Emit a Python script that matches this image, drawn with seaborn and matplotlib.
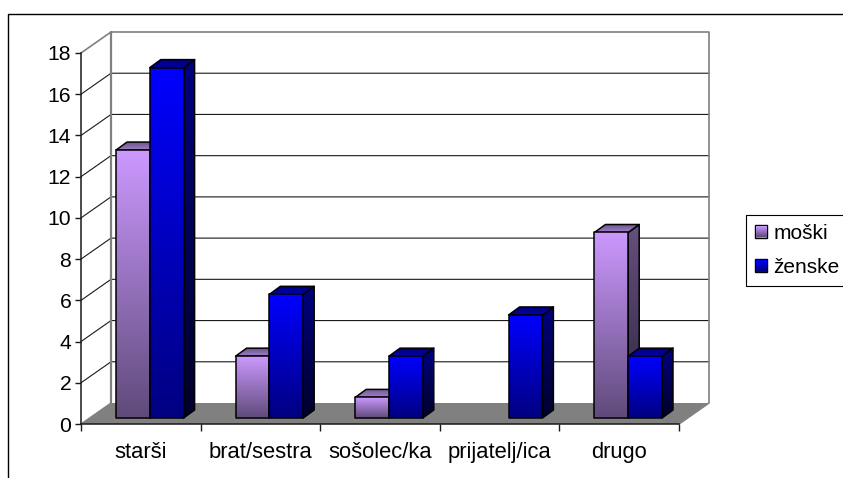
import matplotlib
matplotlib.use("Agg")
import matplotlib.pyplot as plt
import numpy as np
import pandas as pd
import seaborn as sns
from matplotlib.colors import to_rgb
from matplotlib.image import BboxImage
from matplotlib.lines import Line2D
from matplotlib.patches import Polygon
from matplotlib.transforms import Affine2D, Bbox

categories = ["starši", "brat/sestra", "sošolec/ka", "prijatelj/ica", "drugo"]
moski = [13, 3, 1, 0, 9]
zenske = [17, 6, 3, 5, 3]
y_ticks = list(range(0, 20, 2))
series_names = ["moški", "ženske"]

W, H = 843, 478
L, R, T, B = 81, 679, 53, 424
PX_X = (R - L) / 5
PX_Y = (B - T) / 18
WALL_DX, WALL_DY = 30 / PX_X, 21 / PX_Y
BAR_DX, BAR_DY = 11 / PX_X, 8 / PX_Y

FACE = {"moški": dict(front=("#CC99FF", "#5F4A7A"), side=("#66507F", "#2E2440"), top=("#6B5389", "#A07FC8")),
        "ženske": dict(front=("#0000FF", "#000080"), side=("#000080", "#00002A"), top=("#000080", "#0000A8"))}

sns.set_theme(style="white")
plt.rcParams["font.family"] = ["Liberation Sans", "DejaVu Sans"]

fig = plt.figure(figsize=(W / 100, H / 100), dpi=100, facecolor="white")
ax = fig.add_axes([L / W, 1 - B / H, (R - L) / W, (B - T) / H])
ax.patch.set_visible(False)

df = pd.DataFrame({
    "kategorija": categories * 2,
    "vrednost": moski + zenske,
    "spol": [series_names[0]] * 5 + [series_names[1]] * 5,
})
sns.barplot(data=df, x="kategorija", y="vrednost", hue="spol", order=categories,
            hue_order=series_names, palette=["#CC99FF", "#0000FF"], width=0.565, gap=0,
            legend=False, ax=ax, zorder=4)

ax.set_xlim(-0.5, 4.5)
ax.set_ylim(0, 18)
ax.set_xlabel("")
ax.set_ylabel("")

# walls and floor (behind the bars)
x0, x1 = -0.5, 4.5
ax.add_patch(Polygon([(x0, 0), (x0 + WALL_DX, WALL_DY), (x1 + WALL_DX, WALL_DY), (x1, 0)],
                     closed=True, fc="#808080", ec="none", clip_on=False, zorder=1))
for v in y_ticks[1:-1]:
    ax.plot([x0, x0 + WALL_DX, x1 + WALL_DX], [v, v + WALL_DY, v + WALL_DY], color="#1a1a1a",
            lw=0.8, clip_on=False, zorder=1.5)
ax.plot([x0, x0 + WALL_DX, x1 + WALL_DX, x1 + WALL_DX, x1],
        [18, 18 + WALL_DY, 18 + WALL_DY, WALL_DY, 0], color="#808080", lw=1.2, clip_on=False, zorder=1.6)
ax.plot([x0 + WALL_DX] * 2, [WALL_DY, 18 + WALL_DY], color="#808080", lw=1.6, clip_on=False, zorder=1.6)
ax.plot([x0, x0 + WALL_DX], [0, WALL_DY], color="#808080", lw=1, clip_on=False, zorder=1.6)

# bars sit part-way into the depth of the floor
offset = ax.transData + Affine2D().translate(9, 6)


def grad(top, bottom):
    a, b = np.array(to_rgb(top)), np.array(to_rgb(bottom))
    return np.linspace(a, b, 256)[:, None, :]


def face(verts, colours, z):
    xs, ys = zip(*verts)
    im = ax.imshow(grad(*colours), extent=(min(xs), max(xs), min(ys), max(ys)), aspect="auto",
                   transform=offset, zorder=z, interpolation="bilinear")
    im.set_clip_path(Polygon(verts, closed=True, transform=offset))
    im.set_clip_box(fig.bbox)
    ax.add_patch(Polygon(verts, closed=True, fc="none", ec="black", lw=1.1, transform=offset,
                         clip_on=False, zorder=z + 0.01, joinstyle="round"))


z = 5.0
for i in range(len(categories)):
    for name, cont in zip(series_names, ax.containers):
        p = cont.patches[i]
        p.set_visible(False)
        h = p.get_height()
        if not h or np.isnan(h):
            continue
        a, b = p.get_x(), p.get_x() + p.get_width()
        s = FACE[name]
        face([(b, 0), (b, h), (b + BAR_DX, h + BAR_DY), (b + BAR_DX, BAR_DY)], s["side"], z)
        face([(a, h), (a + BAR_DX, h + BAR_DY), (b + BAR_DX, h + BAR_DY), (b, h)], s["top"], z + 0.1)
        face([(a, 0), (a, h), (b, h), (b, 0)], s["front"], z + 0.2)
        z += 1

ax.set_xlim(-0.5, 4.5)
ax.set_ylim(0, 18)

# axes
sns.despine(ax=ax, top=True, right=True)
for sp in ("left", "bottom"):
    ax.spines[sp].set_color("#1a1a1a")
    ax.spines[sp].set_linewidth(1.1)
    ax.spines[sp].set_zorder(30)
ax.set_yticks(y_ticks)
ax.set_yticklabels([str(v) for v in y_ticks])
ax.tick_params(axis="y", left=True, length=4, width=1, color="#1a1a1a", pad=3, labelsize=15.2, labelcolor="black")
ax.set_xticks(np.arange(-0.5, 5, 1))
ax.set_xticklabels([""] * 6)
ax.set_xticks(range(5), labels=categories, minor=True)
ax.tick_params(axis="x", which="major", bottom=True, length=5, width=1, color="#1a1a1a")
ax.tick_params(axis="x", which="minor", bottom=False, length=0, pad=13, labelsize=15.8, labelcolor="black")

# outer chart frame, cropped by the picture
fig.add_artist(Line2D([8 / W, 8 / W, 1], [0, 1 - 14 / H, 1 - 14 / H], color="black", lw=1))

handles = [plt.Rectangle((0, 0), 1, 1, fc=FACE[n]["front"][0], ec="black", lw=1) for n in series_names]
leg = fig.legend(handles, series_names, loc="upper left", bbox_to_anchor=(746 / W, 1 - 215 / H),
                 borderaxespad=0, fancybox=False, framealpha=1, edgecolor="black", fontsize=15,
                 handlelength=0.6, handleheight=0.55, handletextpad=0.3, labelspacing=0.72,
                 borderpad=0.42, labelcolor="black")
leg.get_frame().set_linewidth(0.8)
for n, h in zip(series_names, leg.get_patches()):
    def box(renderer, h=h):
        e = h.get_window_extent(renderer)
        return Bbox.from_extents(e.x0 + 1, e.y0 + 1, e.x1 - 1, e.y1 - 1)
    bi = BboxImage(box, zorder=20, interpolation="bilinear")
    bi.set_data(grad(*FACE[n]["front"]))
    fig.add_artist(bi)

fig.savefig("out.png", dpi=100)
